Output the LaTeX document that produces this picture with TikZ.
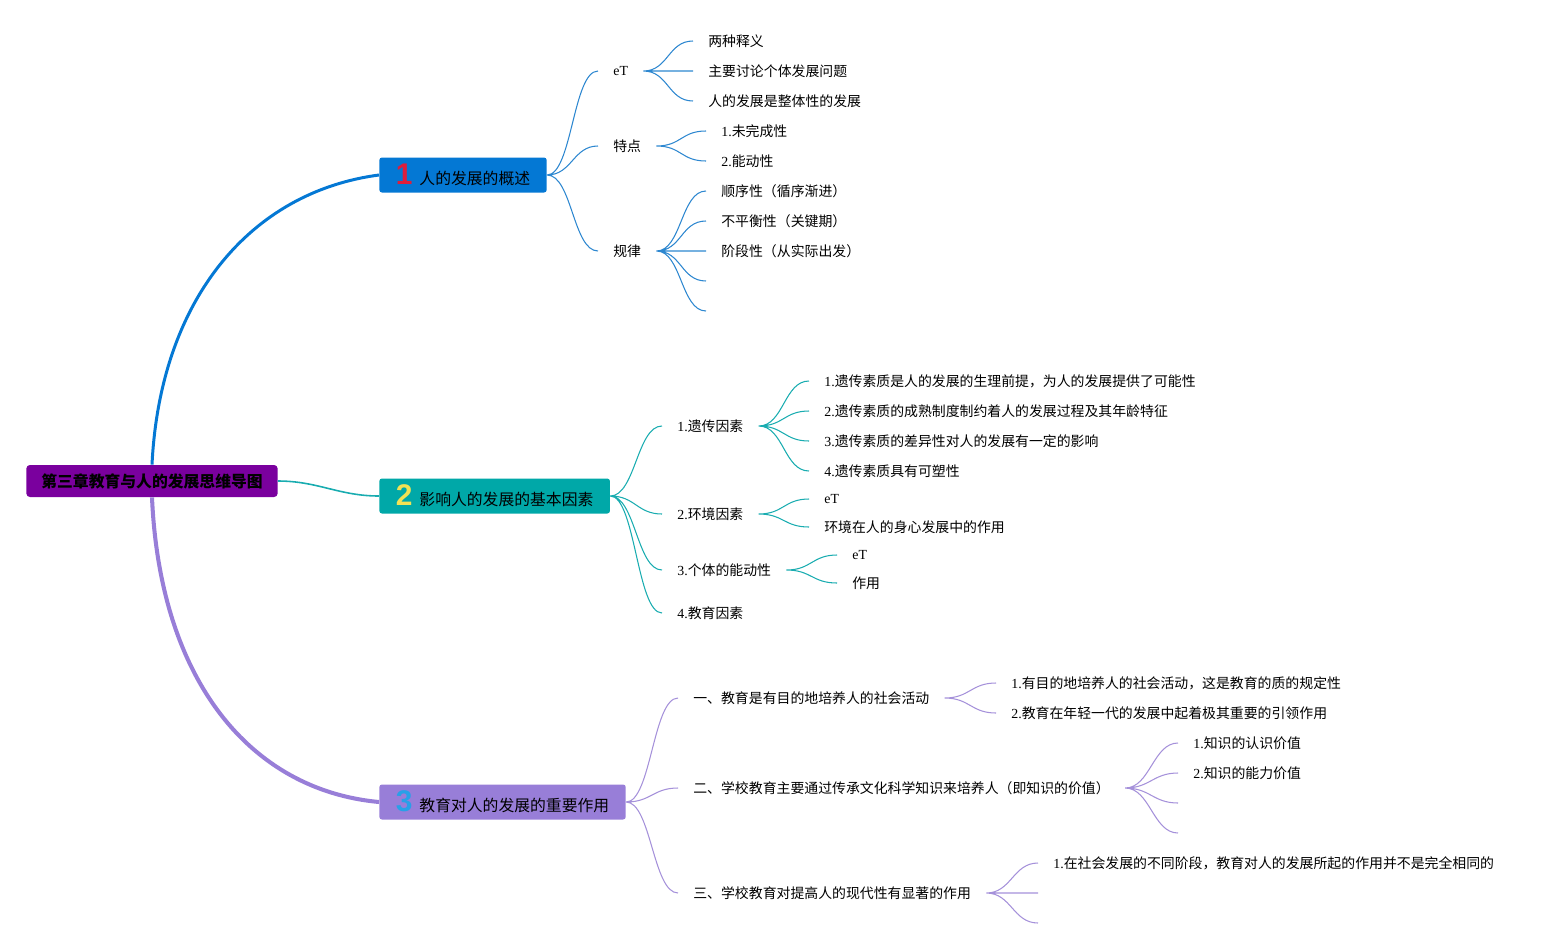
\documentclass[tikz,border=0pt]{standalone}
\usepackage{fontspec}
\setmainfont{Noto Sans CJK SC}
\newfontfamily\latinfont{Liberation Serif}
\newfontfamily\numfont{Liberation Sans}
\usepackage{tikz}
\usetikzlibrary{positioning}
\definecolor{rootpurple}{RGB}{122,0,158}
\definecolor{topicblue}{RGB}{4,120,212}
\definecolor{topicteal}{RGB}{0,168,168}
\definecolor{topiclav}{RGB}{152,126,216}
\definecolor{lineblue}{RGB}{45,135,208}
\definecolor{lineteal}{RGB}{25,172,176}
\definecolor{linelav}{RGB}{165,145,218}
\definecolor{numred}{RGB}{222,30,60}
\definecolor{numyellow}{RGB}{242,226,84}
\definecolor{numblue}{RGB}{40,160,232}
\newcommand{\lt}[1]{{\latinfont #1}}
\newcommand{\topicnum}[2]{{\numfont\bfseries\fontsize{17}{17}\selectfont\color{#1}#2}\hspace{4pt}}

\begin{document}
\begin{tikzpicture}[
x=0.02cm, y=-0.02cm,
RootBox/.style={fill=rootpurple,rounded corners=2pt,inner xsep=8.5pt,minimum height=0.64cm,font=\bfseries\fontsize{9}{10}\selectfont},
TopicBox/.style={anchor=west,rounded corners=1.5pt,inner xsep=0.33cm,minimum height=0.7cm,font=\fontsize{9}{11}\selectfont},
SubText/.style={anchor=west,inner xsep=0.3cm,inner ysep=0pt,font=\fontsize{7.9}{9}\selectfont},
Link/.style={to path={.. controls +(25,0) and +(-25,0) .. (\tikztotarget)}},
BlueLine/.style={draw=lineblue,line width=0.6pt},
TealLine/.style={draw=lineteal,line width=0.6pt},
LavLine/.style={draw=linelav,line width=0.6pt}
]
\useasboundingbox (0,0) rectangle (1558,947);

% root and main topics
\node[RootBox] (root) at (152,481) {第三章教育与人的发展思维导图};
\node[TopicBox,fill=topicblue] (t1) at (379,175) {\topicnum{numred}{1}人的发展的概述};
\node[TopicBox,fill=topicteal] (t2) at (379,496) {\topicnum{numyellow}{2}影响人的发展的基本因素};
\node[TopicBox,fill=topiclav] (t3) at (379,802) {\topicnum{numblue}{3}教育对人的发展的重要作用};

\draw[topicblue,line width=1.7pt] (root.north) .. controls (160,300) and (250,192) .. (t1.west);
\draw[lineteal,line width=0.9pt] (root.east) to[out=0,in=180] (t2.west);
\draw[topiclav,line width=2.3pt] (root.south) .. controls (160,680) and (250,790) .. (t3.west);

% topic 1
\node[SubText] (s11) at (598,71) {\lt{eT}};
\node[SubText] (s12) at (598,146) {特点};
\node[SubText] (s13) at (598,251) {规律};

\node[SubText] (l111) at (693,41) {两种释义};
\node[SubText] (l112) at (693,71) {主要讨论个体发展问题};
\node[SubText] (l113) at (693,101) {人的发展是整体性的发展};
\node[SubText] (l121) at (706,131) {\lt{1.}未完成性};
\node[SubText] (l122) at (706,161) {\lt{2.}能动性};
\node[SubText] (l131) at (706,191) {顺序性（循序渐进）};
\node[SubText] (l132) at (706,221) {不平衡性（关键期）};
\node[SubText] (l133) at (706,251) {阶段性（从实际出发）};
\coordinate (l134) at (706,281);
\coordinate (l135) at (706,311);

\draw[BlueLine] (t1.east) to[Link] (s11.west)
  (t1.east) to[Link] (s12.west)
  (t1.east) to[Link] (s13.west);
\draw[BlueLine] (s11.east) to[Link] (l111.west)
  (s11.east) to[Link] (l112.west)
  (s11.east) to[Link] (l113.west);
\draw[BlueLine] (s12.east) to[Link] (l121.west)
  (s12.east) to[Link] (l122.west);
\draw[BlueLine] (s13.east) to[Link] (l131.west)
  (s13.east) to[Link] (l132.west)
  (s13.east) to[Link] (l133.west)
  (s13.east) to[Link] (l134)
  (s13.east) to[Link] (l135);

% topic 2
\node[SubText] (s21) at (662,426) {\lt{1.}遗传因素};
\node[SubText] (s22) at (662,514) {\lt{2.}环境因素};
\node[SubText] (s23) at (662,570) {\lt{3.}个体的能动性};
\node[SubText] (s24) at (662,613) {\lt{4.}教育因素};

\node[SubText] (l211) at (809,381) {\lt{1.}遗传素质是人的发展的生理前提，为人的发展提供了可能性};
\node[SubText] (l212) at (809,411) {\lt{2.}遗传素质的成熟制度制约着人的发展过程及其年龄特征};
\node[SubText] (l213) at (809,441) {\lt{3.}遗传素质的差异性对人的发展有一定的影响};
\node[SubText] (l214) at (809,471) {\lt{4.}遗传素质具有可塑性};
\node[SubText] (l221) at (809,499) {\lt{eT}};
\node[SubText] (l222) at (809,527) {环境在人的身心发展中的作用};
\node[SubText] (l231) at (837,555) {\lt{eT}};
\node[SubText] (l232) at (837,583) {作用};

\draw[TealLine] (t2.east) to[Link] (s21.west)
  (t2.east) to[Link] (s22.west)
  (t2.east) to[Link] (s23.west)
  (t2.east) to[Link] (s24.west);
\draw[TealLine] (s21.east) to[Link] (l211.west)
  (s21.east) to[Link] (l212.west)
  (s21.east) to[Link] (l213.west)
  (s21.east) to[Link] (l214.west);
\draw[TealLine] (s22.east) to[Link] (l221.west)
  (s22.east) to[Link] (l222.west);
\draw[TealLine] (s23.east) to[Link] (l231.west)
  (s23.east) to[Link] (l232.west);

% topic 3
\node[SubText] (s31) at (678,698) {一、教育是有目的地培养人的社会活动};
\node[SubText] (s32) at (678,788) {二、学校教育主要通过传承文化科学知识来培养人（即知识的价值）};
\node[SubText] (s33) at (678,893) {三、学校教育对提高人的现代性有显著的作用};

\node[SubText] (l311) at (996,683) {\lt{1.}有目的地培养人的社会活动，这是教育的质的规定性};
\node[SubText] (l312) at (996,713) {\lt{2.}教育在年轻一代的发展中起着极其重要的引领作用};
\node[SubText] (l321) at (1178,743) {\lt{1.}知识的认识价值};
\node[SubText] (l322) at (1178,773) {\lt{2.}知识的能力价值};
\coordinate (l323) at (1178,803);
\coordinate (l324) at (1178,833);
\node[SubText] (l331) at (1038,863) {\lt{1.}在社会发展的不同阶段，教育对人的发展所起的作用并不是完全相同的};
\coordinate (l332) at (1038,893);
\coordinate (l333) at (1038,923);

\draw[LavLine] (t3.east) to[Link] (s31.west)
  (t3.east) to[Link] (s32.west)
  (t3.east) to[Link] (s33.west);
\draw[LavLine] (s31.east) to[Link] (l311.west)
  (s31.east) to[Link] (l312.west);
\draw[LavLine] (s32.east) to[Link] (l321.west)
  (s32.east) to[Link] (l322.west)
  (s32.east) to[Link] (l323)
  (s32.east) to[Link] (l324);
\draw[LavLine] (s33.east) to[Link] (l331.west)
  (s33.east) to[Link] (l332)
  (s33.east) to[Link] (l333);
\end{tikzpicture}
\end{document}
